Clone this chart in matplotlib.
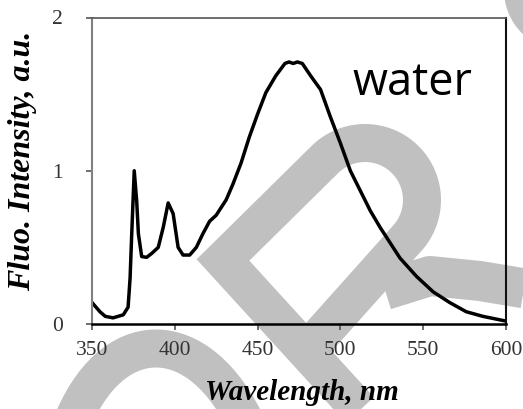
import numpy as np
import matplotlib
matplotlib.use("Agg")
import matplotlib.pyplot as plt
from matplotlib.path import Path
from matplotlib.patches import PathPatch, Circle

# Emission spectrum in water
wavelength = [350, 354.8, 358, 362.7, 368.9, 371.8, 373, 374, 375.5, 377, 378, 380,
              383, 386, 390, 393, 396, 399, 402, 405, 409, 413, 417, 421, 425,
              431, 435, 440, 445, 450, 455, 461, 466.5, 469, 471.5, 474, 477, 482, 488,
              494, 500, 506, 512, 518, 524, 530, 536, 546, 556, 566, 576, 586, 599.5]
intensity = [0.14, 0.08, 0.05, 0.04, 0.06, 0.11, 0.30, 0.59, 1.00, 0.80, 0.59, 0.44,
             0.435, 0.46, 0.50, 0.63, 0.79, 0.72, 0.50, 0.45, 0.45, 0.50, 0.59, 0.67, 0.71,
             0.81, 0.91, 1.05, 1.22, 1.37, 1.51, 1.62, 1.70, 1.71, 1.70, 1.71, 1.70, 1.62, 1.53,
             1.35, 1.18, 1.00, 0.87, 0.74, 0.63, 0.53, 0.43, 0.31, 0.21, 0.14, 0.08, 0.05, 0.02]

x_ticks = [350, 400, 450, 500, 550, 600]
y_ticks = [0, 1, 2]
x_label = "Wavelength, nm"
y_label = "Fluo. Intensity, a.u."
annotation = "water"

W, H = 523, 409
fig = plt.figure(figsize=(W / 100, H / 100), dpi=100)
fig.patch.set_facecolor("white")

# Background decoration layer in pixel coordinates (y downwards)
bg = fig.add_axes([0, 0, 1, 1], zorder=0)
bg.set_xlim(0, W)
bg.set_ylim(H, 0)
bg.axis("off")
bg.patch.set_alpha(0)
gray = "#c0c0c0"

def band(pts, width, codes=None, join="miter"):
    if codes is None:
        codes = [Path.MOVETO] + [Path.LINETO] * (len(pts) - 1)
    p = PathPatch(Path(pts, codes), fill=False, edgecolor=gray,
                  linewidth=width * 0.72, joinstyle=join, capstyle="butt")
    bg.add_patch(p)

# loop with leg
cx, cy, r = 365, 200, 57
th = np.radians(np.linspace(225, 400, 60))
arc = np.column_stack([cx + r * np.cos(th), cy + r * np.sin(th)])
loop = np.vstack([[[380, 432], [223, 260]], arc, [[310, 347]]])
band(loop, 38)
# tail to the right
band([(385, 290), (430, 276), (480, 281), (540, 291)], 40, join="round")
# arch at lower left
band([(70, 428), (110, 322), (200, 322), (248, 428)], 38,
     codes=[Path.MOVETO, Path.CURVE4, Path.CURVE4, Path.CURVE4])
# corner piece at top right
bg.add_patch(Circle((565, -10), 61, color=gray, lw=0))

ax = fig.add_axes([92 / W, 85 / H, 414 / W, 306.5 / H], zorder=2)
ax.patch.set_alpha(0)
ax.plot(wavelength, intensity, color="black", lw=2.5, solid_joinstyle="round")
ax.set_xlim(350, 600)
ax.set_ylim(0, 2)
ax.set_xticks(x_ticks)
ax.set_yticks(y_ticks)

serif = "Liberation Serif"
for lab in ax.get_xticklabels() + ax.get_yticklabels():
    lab.set_fontfamily(serif)
ax.tick_params(axis="both", labelsize=15.5, colors="#555", labelcolor="#333",
               length=4, width=1.2, direction="out")
ax.tick_params(axis="x", pad=8)
ax.tick_params(axis="y", pad=17)

ax.spines["left"].set_color("#808080")
ax.spines["left"].set_linewidth(1.5)
ax.spines["top"].set_color("#555")
ax.spines["top"].set_linewidth(1.2)
ax.spines["right"].set_color("#111")
ax.spines["right"].set_linewidth(1.5)
ax.spines["bottom"].set_color("black")
ax.spines["bottom"].set_linewidth(1.8)

ax.set_xlabel(x_label, fontfamily=serif, fontweight="bold", fontstyle="italic",
              fontsize=21, va="center")
ax.xaxis.set_label_coords(0.507, -0.225)
ax.set_ylabel(y_label, fontfamily=serif, fontweight="bold", fontstyle="italic",
              fontsize=23, va="center")
ax.yaxis.set_label_coords(-0.167, 0.532)

ax.text(507, 1.494, annotation, fontfamily="Open Sans", fontsize=32.5,
        ha="left", va="baseline", color="black")

fig.savefig("out.png", dpi=100, facecolor="white")
